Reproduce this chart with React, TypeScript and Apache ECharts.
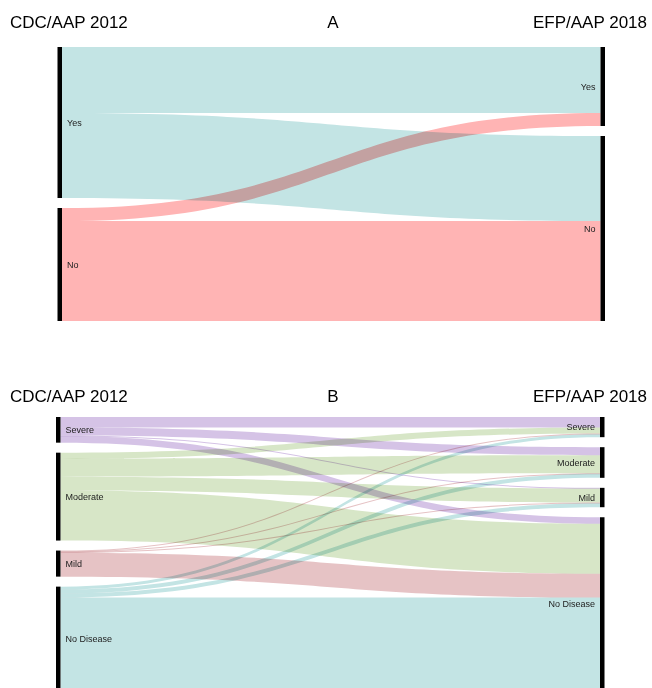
import React, { useEffect, useRef } from "react";
import * as echarts from "echarts";

// Panel A: periodontitis case definition (rows = CDC/AAP 2012, cols = EFP/AAP 2018)
const A_CATEGORIES = ["Yes", "No"];
const A_FLOWS = [
  [66, 85],
  [13, 100],
];

// Panel B: severity (rows = CDC/AAP 2012, cols = EFP/AAP 2018)
const B_CATEGORIES = ["Severe", "Moderate", "Mild", "No Disease"];
const B_FLOWS = [
  [10.5, 8, 0.7, 6.5],
  [6, 18, 14, 50],
  [0.7, 0.7, 0.7, 24],
  [3, 4, 4, 93.5],
];

const LEFT_TITLE = "CDC/AAP 2012";
const RIGHT_TITLE = "EFP/AAP 2018";
const PANEL_TITLES = ["A", "B"];

const A_COLORS = ["#c3e4e4", "#ffb4b4"];
const B_COLORS = ["#d5c3e6", "#d7e6c7", "#e6c3c5", "#c3e4e4"];

const FONT = "'Liberation Sans', Arial, Helvetica, sans-serif";

function buildSankey(
  cats: string[],
  flows: number[][],
  colors: string[],
  top: number,
  left: number,
  right: number
) {
  const nodes: any[] = [];
  cats.forEach((c) =>
    nodes.push({ name: "L|" + c, label: { position: "right", distance: 5 } })
  );
  cats.forEach((c) =>
    nodes.push({ name: "R|" + c, label: { position: "left", distance: 5 } })
  );
  const links: any[] = [];
  flows.forEach((row, i) =>
    row.forEach((v, j) => {
      links.push({
        source: "L|" + cats[i],
        target: "R|" + cats[j],
        value: v,
        lineStyle: { color: colors[i] },
      });
    })
  );
  return {
    type: "sankey",
    left,
    right,
    top,
    height: 274,
    nodeWidth: 4.5,
    nodeGap: 10,
    layoutIterations: 0,
    draggable: false,
    emphasis: { disabled: true },
    itemStyle: { color: "#000", borderWidth: 0 },
    lineStyle: { opacity: 1, curveness: 0.5 },
    label: {
      show: true,
      fontSize: 9,
      color: "#222",
      fontFamily: FONT,
      formatter: (p: any) => String(p.name).split("|")[1],
    },
    data: nodes,
    links,
  };
}

function headerTexts(y: number, panel: string) {
  const base = { fontSize: 17, fontFamily: FONT, fill: "#000" };
  return [
    {
      type: "text",
      x: 10,
      y,
      style: { ...base, text: LEFT_TITLE, align: "left", textAlign: "left", verticalAlign: "middle", textVerticalAlign: "middle" },
    },
    {
      type: "text",
      x: 333,
      y,
      style: { ...base, text: panel, align: "center", textAlign: "center", verticalAlign: "middle", textVerticalAlign: "middle" },
    },
    {
      type: "text",
      x: 647,
      y,
      style: { ...base, text: RIGHT_TITLE, align: "right", textAlign: "right", verticalAlign: "middle", textVerticalAlign: "middle" },
    },
  ];
}

export default function App() {
  const ref = useRef<HTMLDivElement>(null);
  useEffect(() => {
    if (!ref.current) return;
    const chart = echarts.init(ref.current, undefined, { renderer: "svg" });
    chart.setOption({
      animation: false,
      backgroundColor: "#ffffff",
      tooltip: { show: false },
      graphic: [...headerTexts(22, PANEL_TITLES[0]), ...headerTexts(396, PANEL_TITLES[1])],
      series: [
        buildSankey(A_CATEGORIES, A_FLOWS, A_COLORS, 47, 57.5, 47),
        buildSankey(B_CATEGORIES, B_FLOWS, B_COLORS, 417, 56, 47.5),
      ],
    });
    return () => chart.dispose();
  }, []);
  return (
    <>
      <style>{`body{margin:0;} .sk path{mix-blend-mode:multiply;}`}</style>
      <div className="sk" ref={ref} style={{ width: 652, height: 688 }} />
    </>
  );
}
